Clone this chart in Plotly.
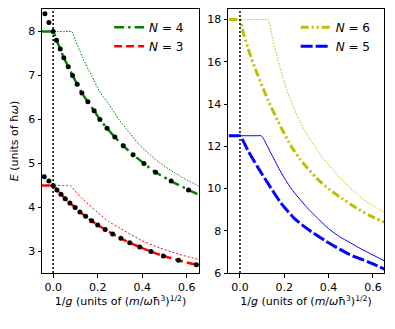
import plotly.graph_objects as go

# Black dots (reference values), N=4 and N=3
n4_dot_x = [-0.037, -0.019, 0.0, 0.015, 0.032, 0.048, 0.068, 0.087, 0.108, 0.129, 0.156,
            0.184, 0.21, 0.242, 0.277, 0.315, 0.359, 0.408, 0.46, 0.53, 0.608]
n4_dot_y = [8.4, 8.2, 8.0, 7.8, 7.6, 7.4, 7.2, 7.0, 6.8, 6.6, 6.4,
            6.2, 6.0, 5.8, 5.6, 5.4, 5.2, 5.0, 4.8, 4.6, 4.4]
n3_dot_x = [-0.04, -0.019, 0.0, 0.017, 0.035, 0.054, 0.075, 0.099, 0.12, 0.146, 0.173,
            0.2, 0.234, 0.267, 0.304, 0.344, 0.389, 0.439, 0.495, 0.563, 0.643]
n3_dot_y = [4.7, 4.6, 4.5, 4.4, 4.3, 4.2, 4.1, 4.0, 3.9, 3.8, 3.7,
            3.6, 3.5, 3.4, 3.3, 3.2, 3.1, 3.0, 2.9, 2.8, 2.7]

# Thick curves
n4_x = [-0.05, -0.008, 0.0, 0.015, 0.032, 0.048, 0.068, 0.087, 0.108, 0.129, 0.156, 0.184,
        0.21, 0.242, 0.277, 0.315, 0.359, 0.408, 0.46, 0.53, 0.608, 0.65]
n4_y = [8.0, 8.0, 8.0, 7.8, 7.6, 7.4, 7.2, 7.0, 6.8, 6.6, 6.4, 6.2,
        6.0, 5.8, 5.6, 5.4, 5.2, 5.0, 4.8, 4.6, 4.4, 4.3]
n3_x = [-0.05, -0.008, 0.0, 0.017, 0.035, 0.054, 0.075, 0.099, 0.12, 0.146, 0.173, 0.2,
        0.234, 0.267, 0.304, 0.344, 0.389, 0.439, 0.495, 0.563, 0.643, 0.653]
n3_y = [4.5, 4.5, 4.5, 4.4, 4.3, 4.2, 4.1, 4.0, 3.9, 3.8, 3.7, 3.6,
        3.5, 3.4, 3.3, 3.2, 3.1, 3.0, 2.9, 2.8, 2.7, 2.68]
n6_x = [-0.05, -0.008, 0.0, 0.014, 0.036, 0.059, 0.081, 0.104, 0.126, 0.171, 0.22, 0.27,
        0.345, 0.405, 0.465, 0.526, 0.586, 0.653]
n6_y = [18.0, 18.0, 18.0, 17.4, 16.65, 15.95, 15.35, 14.75, 14.2, 13.2, 12.2, 11.4,
        10.5, 9.95, 9.5, 9.08, 8.72, 8.4]
n5_x = [-0.05, -0.008, 0.0, 0.036, 0.081, 0.126, 0.186, 0.246, 0.306, 0.389, 0.495, 0.586, 0.653]
n5_y = [12.5, 12.5, 12.5, 11.8, 11.0, 10.25, 9.3, 8.58, 8.08, 7.5, 6.88, 6.5, 6.18]

# Thin curves
n4_thin_x = [-0.05, 0.07, 0.083, 0.1, 0.133, 0.172, 0.213, 0.25, 0.295, 0.33, 0.39, 0.48, 0.571, 0.653]
n4_thin_y = [8.0, 8.0, 8.0, 7.8, 7.4, 7.0, 6.6, 6.35, 6.0, 5.78, 5.41, 5.01, 4.71, 4.49]
n3_thin_x = [-0.05, 0.065, 0.077, 0.094, 0.131, 0.197, 0.25, 0.3, 0.39, 0.48, 0.571, 0.653]
n3_thin_y = [4.5, 4.5, 4.5, 4.4, 4.2, 3.9, 3.68, 3.53, 3.27, 3.08, 2.93, 2.82]
n6_thin_x = [-0.05, 0.112, 0.126, 0.149, 0.171, 0.194, 0.224, 0.269, 0.315, 0.375, 0.435, 0.495,
             0.555, 0.653]
n6_thin_y = [18.0, 18.0, 18.0, 17.0, 16.1, 15.25, 14.3, 13.2, 12.35, 11.45, 10.7, 10.05,
             9.5, 8.88]
n5_thin_x = [-0.05, 0.082, 0.096, 0.141, 0.186, 0.228, 0.276, 0.31, 0.35, 0.4, 0.45, 0.495,
             0.54, 0.586, 0.653]
n5_thin_y = [12.5, 12.5, 12.5, 11.65, 10.75, 10.05, 9.42, 9.02, 8.6, 8.1, 7.72, 7.45,
             7.18, 6.93, 6.57]

GREEN = "#008000"
RED = "#ff0000"
BLUE = "#0000ff"
YELLOW = "#bfbf00"


def curve(x, y, color, width, dash, xa, ya, name=None, legend=None):
    return go.Scatter(x=x, y=y, mode="lines", name=name, showlegend=name is not None,
                      line=dict(color=color, width=width, dash=dash, shape="spline", smoothing=0.7),
                      xaxis=xa, yaxis=ya, legend=legend)


fig = go.Figure()

# left panel
fig.add_trace(curve(n4_thin_x, n4_thin_y, GREEN, 1, "1.5px,1.5px", "x", "y"))
fig.add_trace(curve(n3_thin_x, n3_thin_y, RED, 1, "2px,2px", "x", "y"))
fig.add_trace(curve(n4_x, n4_y, GREEN, 2.5, "10px,4px,2.5px,4px", "x", "y", "<i>N</i> = 4", "legend"))
fig.add_trace(curve(n3_x, n3_y, RED, 2.5, "8px,4px", "x", "y", "<i>N</i> = 3", "legend"))
fig.add_trace(go.Scatter(x=n4_dot_x, y=n4_dot_y, mode="markers", showlegend=False,
                         marker=dict(color="black", size=5), xaxis="x", yaxis="y"))
fig.add_trace(go.Scatter(x=n3_dot_x, y=n3_dot_y, mode="markers", showlegend=False,
                         marker=dict(color="black", size=5), xaxis="x", yaxis="y"))

# right panel
fig.add_trace(curve(n6_thin_x, n6_thin_y, YELLOW, 1, "1.5px,1.5px", "x2", "y2"))
fig.add_trace(curve(n5_thin_x, n5_thin_y, BLUE, 1, "solid", "x2", "y2"))
fig.add_trace(curve(n6_x, n6_y, YELLOW, 3, "8px,3px,2px,3px,2px,3px", "x2", "y2", "<i>N</i> = 6", "legend2"))
fig.add_trace(curve(n5_x, n5_y, BLUE, 3, "12px,3px", "x2", "y2", "<i>N</i> = 5", "legend2"))

# dotted vertical line at 1/g = 0
for xr, yr in [("x", "y domain"), ("x2", "y2 domain")]:
    fig.add_shape(type="line", x0=0, x1=0, y0=0, y1=1, xref=xr, yref=yr,
                  line=dict(color="black", width=1.5, dash="2px,2px"))

xtitle = "1/<i>g</i> (units of (<i>m</i>/<i>ω</i>ħ<sup>3</sup>)<sup>1/2</sup>)"
axis_style = dict(showline=True, mirror=True, linecolor="black", linewidth=1,
                  ticks="outside", ticklen=3.5, tickcolor="black", showgrid=False,
                  zeroline=False, tickfont=dict(size=11, color="black"))

# page body adds an 8px margin, so the figure is 387x321
fig.update_layout(
    width=387, height=321,
    margin=dict(l=0, r=0, t=0, b=0),
    paper_bgcolor="white", plot_bgcolor="white",
    font=dict(family="DejaVu Sans", size=11, color="black"),
    xaxis=dict(domain=[0.0879, 0.4935], range=[-0.05, 0.655], tickvals=[0, 0.2, 0.4, 0.6],
               tickformat=".1f", anchor="y", title=dict(text=xtitle, standoff=4, font=dict(size=11)),
               **axis_style),
    yaxis=dict(domain=[0.1558, 0.9969], range=[2.51, 8.51], tickvals=[3, 4, 5, 6, 7, 8], anchor="x",
               title=dict(text="<i>E</i> (units of ħ<i>ω</i>)", standoff=8, font=dict(size=11)),
               **axis_style),
    xaxis2=dict(domain=[0.5685, 0.9716], range=[-0.054, 0.65], tickvals=[0, 0.2, 0.4, 0.6],
                tickformat=".1f", anchor="y2", title=dict(text=xtitle, standoff=4, font=dict(size=11)),
                **axis_style),
    yaxis2=dict(domain=[0.1558, 0.9969], range=[6, 18.5], tickvals=[6, 8, 10, 12, 14, 16, 18],
                anchor="x2", **axis_style),
    legend=dict(x=0.468, xanchor="right", y=0.985, yanchor="top", bgcolor="rgba(255,255,255,0)",
                font=dict(size=12), tracegroupgap=0),
    legend2=dict(x=0.95, xanchor="right", y=0.985, yanchor="top", bgcolor="rgba(255,255,255,0)",
                 font=dict(size=12), tracegroupgap=0),
)

fig.write_html("out.html")
